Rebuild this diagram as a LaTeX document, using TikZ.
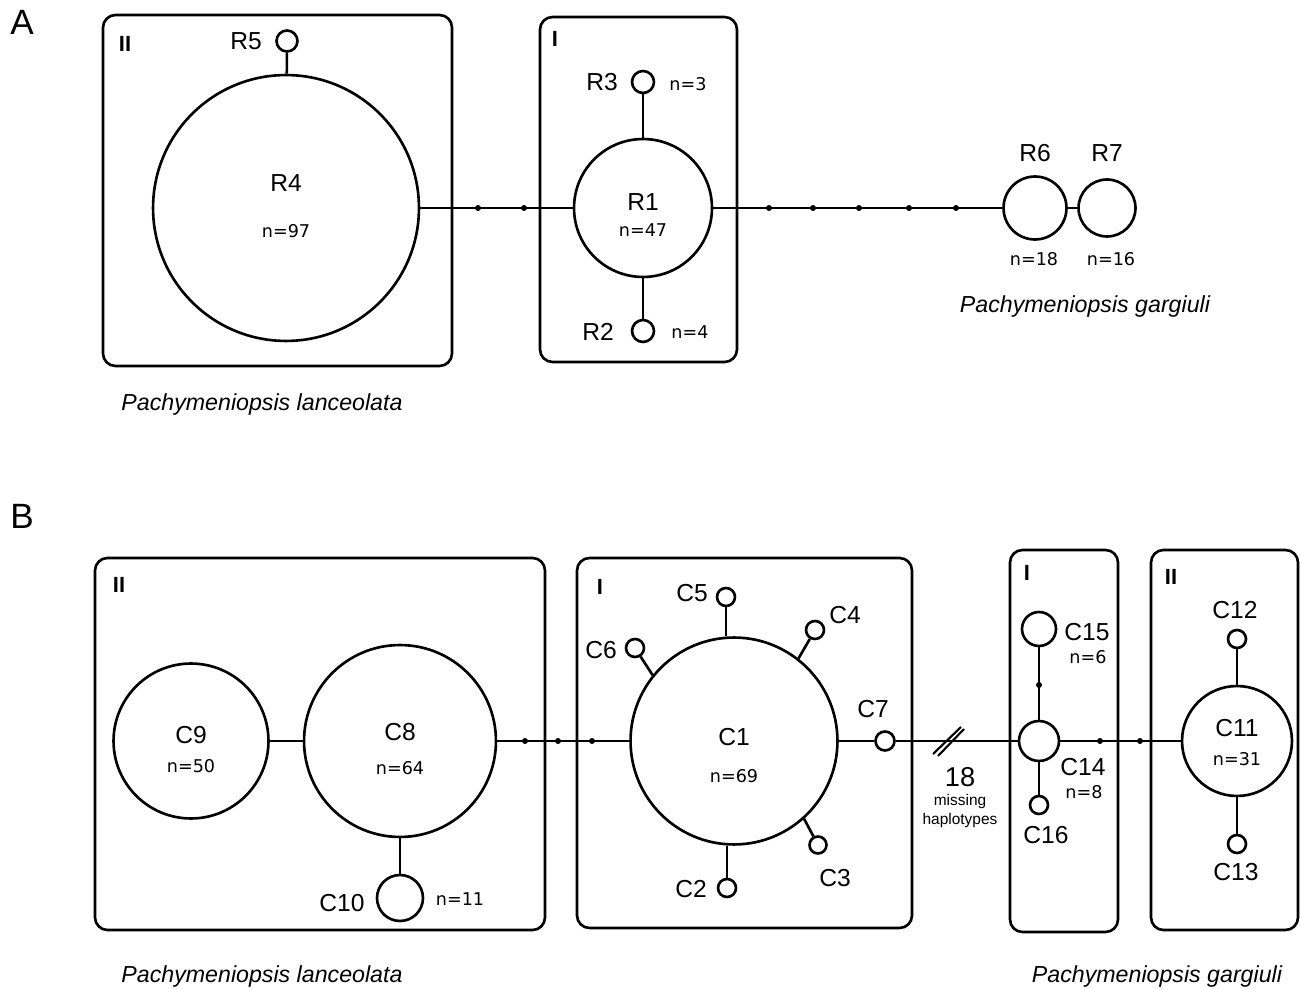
\documentclass[tikz,border=0pt]{standalone}
\usepackage{fontspec}
\setmainfont{Liberation Sans}
\newfontfamily\nfont{DejaVu Sans}
\usetikzlibrary{calc}

\begin{document}
\begin{tikzpicture}[
  x=0.02cm, y=-0.02cm,
  line width=1.5pt,
  every node/.style={inner sep=1pt},
  hap/.style={circle, draw, line width=1.5pt, inner sep=0pt, minimum size=#1*0.04cm},
  mv/.style={circle, fill, inner sep=0pt, minimum size=0.12cm},
  grp/.style={draw, line width=1.5pt, rounded corners=0.25cm},
  hlab/.style={font=\fontsize{14}{16}\selectfont},
  nlab/.style={font=\nfont\fontsize{10}{12}\selectfont},
  clade/.style={font=\fontsize{12.5}{15}\selectfont\bfseries},
  spp/.style={font=\fontsize{13.2}{15}\selectfont\itshape},
  tag/.style={font=\fontsize{20}{24}\selectfont},
]
\useasboundingbox (0,0) rectangle (1302,989);

%% ---------------- Panel A (rbcL) ----------------
\node[tag] (tA) at (22,22) {A};
\draw[grp] (103,15) rectangle (452,366);
\draw[grp] (540,17) rectangle (737,362);
\node[clade] (cA2) at (125,44) {II};
\node[clade] (cA1) at (555,39) {I};

%% haplotypes
\node[hap=133] (R4) at (286,208) {};
\node[hap=10.5] (R5) at (287,41) {};
\node[hap=69] (R1) at (643,208) {};
\node[hap=11] (R3) at (643,82) {};
\node[hap=11] (R2) at (643,331) {};
\node[hap=31.5] (R6) at (1035,208) {};
\node[hap=28.5] (R7) at (1107,208) {};

%% labels
\node[hlab] (lR4) at (286,183) {R4};
\node[nlab] (nR4) at (286,231) {n=97};
\node[hlab] (lR5) at (246,41) {R5};
\node[hlab] (lR1) at (643,202) {R1};
\node[nlab] (nR1) at (643,230) {n=47};
\node[hlab] (lR3) at (602,82) {R3};
\node[nlab] (nR3) at (688,84) {n=3};
\node[hlab] (lR2) at (598,332) {R2};
\node[nlab] (nR2) at (690,332) {n=4};
\node[hlab] (lR6) at (1035,153) {R6};
\node[hlab] (lR7) at (1107,153) {R7};
\node[nlab] (nR6) at (1034,259) {n=18};
\node[nlab] (nR7) at (1111,259) {n=16};

%% missing haplotypes
\foreach \xx [count=\i] in {478,524}
  \node[mv] (ma\i) at (\xx,208) {};
\foreach \xx [count=\i] in {769,813,859,909,956}
  \node[mv] (mb\i) at (\xx,208) {};

%% links
\draw (R5) -- (R4);
\draw (R4) -- (R1);
\draw (R3) -- (R1);
\draw (R2) -- (R1);
\draw (R1) -- (R6);
\draw (R6) -- (R7);

\node[spp] (spA1) at (262,405) {Pachymeniopsis lanceolata};
\node[spp] (spA2) at (1085,307) {Pachymeniopsis gargiuli};

%% ---------------- Panel B (cox1) ----------------
\node[tag] (tB) at (22,516) {B};
\draw[grp] (95,558) rectangle (545,930);
\draw[grp] (577,558) rectangle (912,928);
\draw[grp] (1010,550) rectangle (1118,932);
\draw[grp] (1151,550) rectangle (1298,930);
\node[clade] (cB2) at (119,585) {II};
\node[clade] (cB1) at (600,587) {I};
\node[clade] (cB3) at (1027,573) {I};
\node[clade] (cB4) at (1171,577) {II};

%% haplotypes
\node[hap=77.5] (C9) at (191,741) {};
\node[hap=96] (C8) at (400,741) {};
\node[hap=23] (C10) at (400,898) {};
\node[hap=103.5] (C1) at (734,741) {};
\node[hap=9] (C5) at (726,597) {};
\node[hap=9] (C4) at (815,630) {};
\node[hap=9] (C6) at (635,648) {};
\node[hap=9.5] (C7) at (885,741) {};
\node[hap=8.5] (C3) at (818,845) {};
\node[hap=9] (C2) at (727,888) {};
\node[hap=20] (C14) at (1039,741) {};
\node[hap=17] (C15) at (1039,629) {};
\node[hap=9] (C16) at (1039,805) {};
\node[hap=55] (C11) at (1237,741) {};
\node[hap=9] (C12) at (1237,639) {};
\node[hap=9] (C13) at (1237,844) {};

%% labels
\node[hlab] (lC9) at (191,735) {C9};
\node[nlab] (nC9) at (191,766) {n=50};
\node[hlab] (lC8) at (400,732) {C8};
\node[nlab] (nC8) at (400,768) {n=64};
\node[hlab] (lC10) at (342,903) {C10};
\node[nlab] (nC10) at (460,899) {n=11};
\node[hlab] (lC1) at (734,737) {C1};
\node[nlab] (nC1) at (734,776) {n=69};
\node[hlab] (lC5) at (692,593) {C5};
\node[hlab] (lC4) at (845,615) {C4};
\node[hlab] (lC6) at (601,650) {C6};
\node[hlab] (lC7) at (873,709) {C7};
\node[hlab] (lC3) at (835,878) {C3};
\node[hlab] (lC2) at (691,889) {C2};
\node[hlab] (lC15) at (1087,632) {C15};
\node[nlab] (nC15) at (1088,657) {n=6};
\node[hlab] (lC14) at (1083,767) {C14};
\node[nlab] (nC14) at (1084,792) {n=8};
\node[hlab] (lC16) at (1046,835) {C16};
\node[hlab] (lC11) at (1237,728) {C11};
\node[nlab] (nC11) at (1237,759) {n=31};
\node[hlab] (lC12) at (1235,610) {C12};
\node[hlab] (lC13) at (1236,872) {C13};

%% missing haplotypes
\foreach \xx [count=\i] in {525,558,592}
  \node[mv] (mc\i) at (\xx,741) {};
\node[mv] (md1) at (1039,685) {};
\foreach \xx [count=\i] in {1100,1140}
  \node[mv] (me\i) at (\xx,741) {};

%% links
\draw (C9) -- (C8);
\draw (C8) -- (C10);
\draw (C8) -- (C1);
\draw (C5.south) -- (C5.south |- C1.north);
\draw (C2.north) -- (C2.north |- C1.south);
\draw (C6) -- (C1.141);
\draw (C4) -- (C1.52);
\draw (C3) -- (C1.-48);
\draw (C1) -- (C7);
\draw (C7) -- (C14);
\draw (C15) -- (C14);
\draw (C16) -- (C14);
\draw (C14) -- (C11);
\draw (C12) -- (C11);
\draw (C13) -- (C11);

%% break of 18 steps
\coordinate (brk) at (948,741);
\draw[line width=1.2pt] ($(brk)+(-15,13)$) -- ($(brk)+(13,-14)$);
\draw[line width=1.2pt] ($(brk)+(-10,15)$) -- ($(brk)+(16,-12)$);
\node[font=\fontsize{15.5}{18}\selectfont] (gap) at (960,777) {18};
\node[font=\fontsize{8.8}{10.4}\selectfont, align=center] (gapt) at (960,811) {missing\\haplotypes};

\node[spp] (spB1) at (262,977) {Pachymeniopsis lanceolata};
\node[spp] (spB2) at (1157,977) {Pachymeniopsis gargiuli};

\end{tikzpicture}
\end{document}
